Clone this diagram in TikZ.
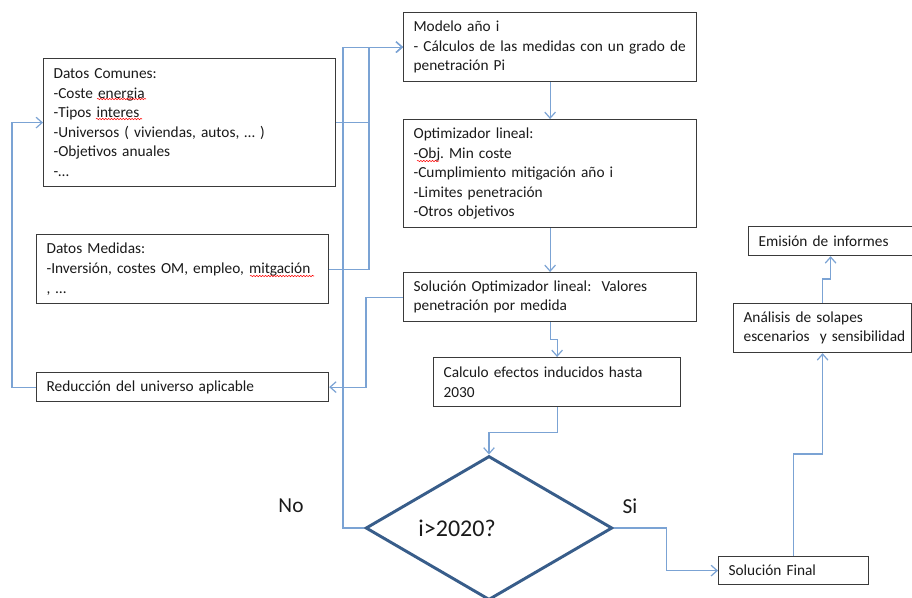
\documentclass[tikz,border=0pt]{standalone}
\usepackage{fontspec}
\setmainfont{Carlito}
\usetikzlibrary{arrows.meta,shapes.geometric,decorations.pathmorphing}
\definecolor{linkblue}{HTML}{7BA3D4}
\definecolor{boxgray}{HTML}{3A3A3A}
\definecolor{textgray}{HTML}{1A1A1A}
\definecolor{diablue}{HTML}{385D8A}
\frenchspacing
\begin{document}
\begin{tikzpicture}[x=0.75pt,y=-0.75pt,
 box/.style={draw=boxgray, line width=0.9pt, text=textgray, font=\fontsize{11.5}{14.7}\selectfont\frenchspacing, align=left, anchor=north west, inner xsep=7.5pt, inner ysep=0pt},
 conn/.style={draw=linkblue, line width=0.9pt, -{Straight Barb[length=4.5pt,width=8pt]}},
 lbl/.style={text=textgray, font=\fontsize{16}{18}\selectfont},
 squiggle/.style={draw=red, line width=0.4pt, decorate, decoration={snake, amplitude=0.5pt, segment length=2.2pt}}]
\fill[white] (0,0) rectangle (912,597);
\useasboundingbox (0,0) rectangle (912,597);

\node[box, text width=204pt, minimum height=96pt] (comunes) at (43,58) {Datos Comunes:\\-Coste energia\\-Tipos interes\\-Universos ( viviendas, autos, … )\\-Objetivos anuales\\-…};
\node[box, text width=204pt, minimum height=51.75pt] (medidas) at (36,234) {Datos Medidas:\\\mbox{-Inversión, costes OM, empleo, mitgación}\\, …};
\node[box, text width=204pt, minimum height=21.75pt] (reduccion) at (36,372) {Reducción del universo aplicable};
\node[box, text width=204.75pt, minimum height=51.75pt] (modelo) at (403,12) {Modelo año i\\\mbox{- Cálculos de las medidas con un grado de}\\penetración Pi};
\node[box, text width=204.75pt, minimum height=81pt] (optim) at (403,119) {Optimizador lineal:\\-Obj. Min coste\\-Cumplimiento mitigación año i\\-Limites penetración\\-Otros objetivos};
\node[box, text width=204.75pt, minimum height=36.75pt] (solopt) at (403,272) {\mbox{Solución Optimizador lineal:\ \ Valores}\\penetración por medida};
\node[box, text width=170.25pt, minimum height=36.75pt] (calculo) at (433,357) {\mbox{Calculo efectos inducidos hasta}\\2030};
\node[box, text width=97.5pt, minimum height=21pt] (final) at (718,556) {Solución Final};
\node[box, text width=118.5pt, minimum height=36.75pt] (analisis) at (733,303) {Análisis de solapes\\\mbox{escenarios\ \ y sensibilidad}};
\node[box, text width=108pt, minimum height=21.75pt] (emision) at (748,226) {Emisión de informes};

\node[diamond, draw=diablue, line width=2.2pt, minimum width=185pt, minimum height=108pt, inner sep=0pt,
  label={[lbl, font=\fontsize{18}{20}\selectfont, xshift=-24pt]center:i>2020?}] (dia) at (489,528) {};

\node[lbl] (no) at (291,506) {No};
\node[lbl] (si) at (630,506) {Si};

% spell-check marks
\draw[squiggle] (97,99) -- (146,99);
\draw[squiggle] (96,119) -- (142,119);
\draw[squiggle] (250,276) -- (314,276);
\draw[squiggle] (417,161) -- (439,161);

\coordinate (busF) at (12,0);
\coordinate (busL) at (343,0);
\coordinate (busM) at (366,0);
\coordinate (busR) at (369,0);

\draw[conn] (comunes.east) -- (busR |- comunes.east) |- (modelo.west);
\draw[conn] (medidas.east) -- (busR |- medidas.east) |- (modelo.west);
\draw[conn] (dia.west) -- (busL |- dia.west) |- (modelo.west);
\draw[conn] (modelo.south) -- (optim.north);
\draw[conn] (optim.south) -- (solopt.north);
\draw[conn] (solopt.west) -- (busM |- solopt.west) |- (reduccion.east);
\draw[conn] (reduccion.west) -- (busF |- reduccion.west) |- (comunes.west);
\draw[conn] (solopt.south) -- ++(0,17) -| (calculo.north);
\draw[conn] (calculo.south) -- ++(0,25) -| (dia.north);
\draw[conn] (dia.east) -- ++(53,0) |- (final.west);
\draw[conn] (final.north) -- ++(0,-102) -| (analisis.south);
\draw[conn] (analisis.north) -- ++(0,-24) -| (emision.south);
\end{tikzpicture}
\end{document}
